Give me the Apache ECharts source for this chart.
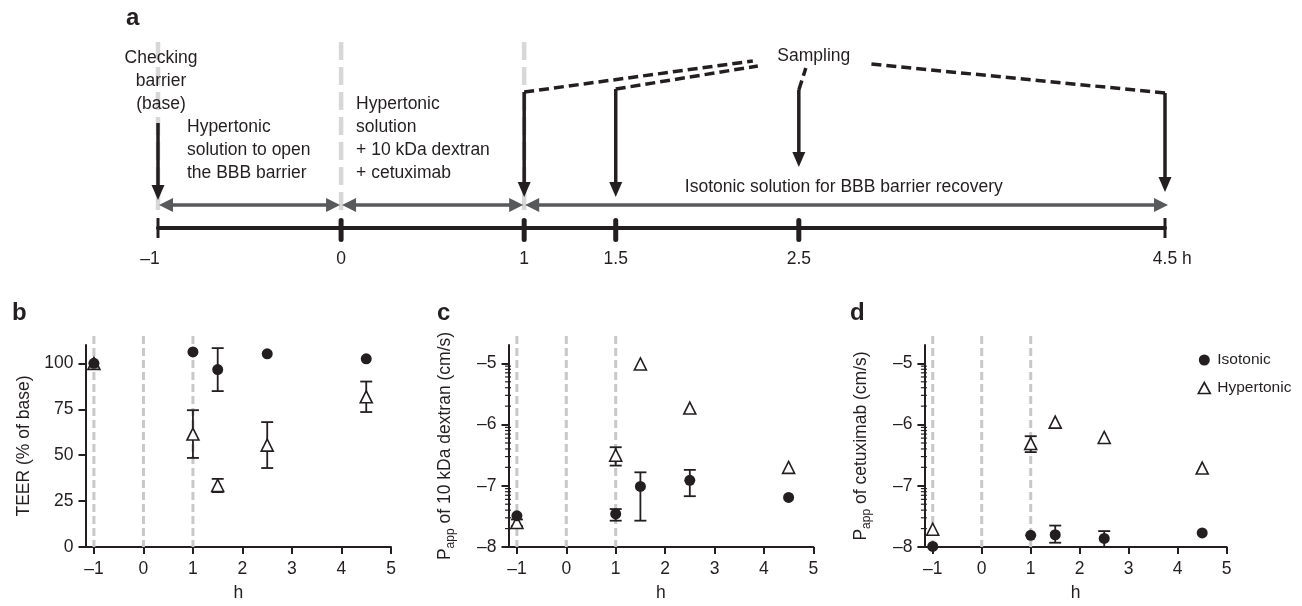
<!DOCTYPE html>
<html><head><meta charset="utf-8">
<script src="https://cdn.jsdelivr.net/npm/echarts@6/dist/echarts.min.js"></script>
<style>html,body{margin:0;padding:0;background:#fff}#c{width:1302px;height:606px}</style>
</head><body><div id="c"></div>
<script>
// ---------- Panel a: experimental timeline ----------
const timelineHours = [-1, 0, 1, 1.5, 2.5, 4.5];
const phaseBounds = [[-1, 0], [0, 1], [1, 4.5]];
const checkHour = -1;
const samplingHours = [1, 1.5, 2.5, 4.5];
const guideHours = [-1, 0, 1];
const annotTexts = ['Checking\nbarrier\n(base)', 'Hypertonic\nsolution to open\nthe BBB barrier',
  'Hypertonic\nsolution\n+ 10 kDa dextran\n+ cetuximab', 'Sampling', 'Isotonic solution for BBB barrier recovery'];
const annotHours = [-1, -1, 0, 2.5, 2.5];

// ---------- Panels b-d: measurements ----------
const timeH = [-1, 1, 1.5, 2.5, 4.5];
const xTicks = [-1, 0, 1, 2, 3, 4, 5];
const teerTicks = [0, 25, 50, 75, 100];
const logTicks = [-8, -7, -6, -5];
// b: TEER (% of base), mean and error
const teerIso = [100, 106.2, 96.6, 105.2, 102.5];
const teerIsoErr = [0, 0, 11.7, 0, 0];
const teerHyp = [100, 61.5, 33.5, 55.5, 81.8];
const teerHypErr = [0, 13, 3.6, 12.5, 8.3];
// c: log10 Papp of 10 kDa dextran, with error-bar limits
const dexIso = [-7.49, -7.46, -7.01, -6.91, -7.19];
const dexIsoLo = [null, -7.57, -7.57, -7.17, null];
const dexIsoHi = [null, -7.38, -6.78, -6.74, null];
const dexHyp = [-7.6, -6.5, -5.01, -5.73, -6.7];
const dexHypLo = [-7.66, -6.67, null, null, null];
const dexHypHi = [-7.55, -6.37, null, null, null];
// d: log10 Papp of cetuximab
const cetIso = [-7.99, -7.81, -7.8, -7.86, -7.77];
const cetIsoLo = [null, null, -7.93, -8.0, null];
const cetIsoHi = [null, null, -7.65, -7.74, null];
const cetHyp = [-7.71, -6.31, -5.96, -6.21, -6.71];
const cetHypLo = [null, -6.45, null, null, null];
const cetHypHi = [null, -6.19, null, null, null];

// ---------- styling / layout ----------
const FONT = 'Liberation Sans';
const INK = '#231f20';
const GREY = '#58595b';
const FS = 17.5;
const XMIN = -1.17;
const fmtNum = v => (v < 0 ? '\u2013' + Math.abs(v) : String(v));

const logMinor = [];
for (let d = -8; d <= -5; d++) for (let k = 2; k <= 9; k++) {
  const v = d + Math.log10(k); if (v <= -4.7) logMinor.push(v);
}

const chart = echarts.init(document.getElementById('c'));

function line(x1, y1, x2, y2, style) { return { type: 'line', shape: { x1, y1, x2, y2 }, style }; }
function poly(points, fill) { return { type: 'polygon', shape: { points }, style: { fill } }; }

const axisText = { color: INK, fontSize: FS, fontFamily: FONT };

function panelX(gi) {
  return {
    gridIndex: gi, type: 'value', min: XMIN, max: 5,
    name: 'h', nameLocation: 'middle', nameGap: 37, nameTextStyle: axisText,
    axisLine: { show: true, onZero: false, lineStyle: { color: INK, width: 2 } },
    axisTick: { show: true, length: 7, lineStyle: { color: INK, width: 2 }, customValues: xTicks },
    axisLabel: Object.assign({ customValues: xTicks, formatter: fmtNum, margin: 13 }, axisText),
    splitLine: { show: false }
  };
}
function panelY(gi, min, max, ticks, name) {
  return {
    gridIndex: gi, type: 'value', min, max,
    name, nameLocation: 'middle', nameGap: 52,
    nameTextStyle: Object.assign({
      rich: {
        n: { fontSize: FS, fontFamily: FONT, color: INK, lineHeight: 22 },
        s: { fontSize: 12, fontFamily: FONT, color: INK, verticalAlign: 'bottom', lineHeight: 12 }
      }
    }, axisText),
    axisLine: { show: true, onZero: false, lineStyle: { color: INK, width: 2 } },
    axisTick: { show: true, length: 7, lineStyle: { color: INK, width: 2 }, customValues: ticks },
    axisLabel: Object.assign({ customValues: ticks, formatter: fmtNum, margin: 12 }, axisText),
    splitLine: { show: false }
  };
}

function guideSeries(gi, ymin) {
  return {
    type: 'custom', xAxisIndex: gi, yAxisIndex: gi, z: 1, silent: true,
    data: guideHours.map(h => [h, ymin]),
    renderItem: (params, api) => {
      const p = api.coord([api.value(0), api.value(1)]);
      const top = params.coordSys.y - 9;
      return line(p[0], top, p[0], p[1], { stroke: '#c8c8c8', lineWidth: 3, lineDash: [8, 4] });
    }
  };
}
function errSeries(gi, xs, lo, hi) {
  const data = [];
  xs.forEach((x, i) => { if (lo[i] != null && hi[i] != null) data.push([x, lo[i], hi[i]]); });
  return {
    type: 'custom', xAxisIndex: gi, yAxisIndex: gi, z: 2, silent: true, data,
    renderItem: (params, api) => {
      const a = api.coord([api.value(0), api.value(1)]);
      const b = api.coord([api.value(0), api.value(2)]);
      const st = { stroke: INK, lineWidth: 1.8 };
      return { type: 'group', children: [
        line(a[0], a[1], b[0], b[1], st),
        line(a[0] - 6, a[1], a[0] + 6, a[1], st),
        line(b[0] - 6, b[1], b[0] + 6, b[1], st)
      ] };
    }
  };
}
function isoSeries(gi, vals) {
  return { type: 'scatter', name: 'Isotonic', xAxisIndex: gi, yAxisIndex: gi, z: 4,
    symbol: 'circle', symbolSize: 11, itemStyle: { color: INK, opacity: 1 },
    data: timeH.map((h, i) => [h, vals[i]]) };
}
function hypSeries(gi, vals) {
  return { type: 'scatter', name: 'Hypertonic', xAxisIndex: gi, yAxisIndex: gi, z: 3,
    symbol: 'triangle', symbolSize: 12, itemStyle: { color: '#fff', borderColor: INK, borderWidth: 1.6, opacity: 1 },
    data: timeH.map((h, i) => [h, vals[i]]) };
}
function minorSeries(gi) {
  return { type: 'custom', xAxisIndex: gi, yAxisIndex: gi, z: 2, silent: true,
    data: logMinor.map(v => [XMIN, v]),
    renderItem: (params, api) => {
      const p = api.coord([api.value(0), api.value(1)]);
      return line(p[0] - 3.5, p[1], p[0] + 2.5, p[1], { stroke: INK, lineWidth: 1.2 });
    } };
}

// panel a layout (pixel offsets above the timeline axis)
const A = {
  guideTop: 186, guideBottom: 12, arrowRow: 23,
  checkArrow: { top: 105, tip: 28 },
  sampArrow: { 1: { top: 136, tip: 31 }, 1.5: { top: 139, tip: 31 }, 2.5: { top: 138, tip: 61 }, 4.5: { top: 135, tip: 36 } },
  label: { dx: 15, dy: 172 },
  connEnd: { 1: [-61, -5], 1.5: [-56, -10], 2.5: [-8, -12], 4.5: [57, -8] },
  text: [
    { dx: 3, dy: 181.5, align: 'center', va: 'top' },
    { dx: 29, dy: 112.5, align: 'left', va: 'top' },
    { dx: 15, dy: 135.5, align: 'left', va: 'top' },
    { dx: 15, dy: 172, align: 'center', va: 'middle' },
    { dx: 45, dy: 41, align: 'center', va: 'middle' }
  ]
};

function downArrow(x, yTop, yTip) {
  return [
    line(x, yTop, x, yTip - 12, { stroke: INK, lineWidth: 3.5 }),
    poly([[x - 6.5, yTip - 15], [x + 6.5, yTip - 15], [x, yTip]], INK)
  ];
}

const aSeries = [
  { // grey guide lines
    type: 'custom', xAxisIndex: 0, yAxisIndex: 0, z: 1, silent: true,
    data: guideHours.map(h => [h, 0]),
    renderItem: (params, api) => {
      const p = api.coord([api.value(0), 0]);
      return line(p[0], p[1] - A.guideTop, p[0], p[1] - A.guideBottom, { stroke: '#d7d7d7', lineWidth: 4.5, lineDash: [18, 7] });
    }
  },
  { // timeline ticks
    type: 'custom', xAxisIndex: 0, yAxisIndex: 0, z: 3, silent: true,
    data: timelineHours.map(h => [h, 0]),
    renderItem: (params, api) => {
      const h = api.value(0);
      const p = api.coord([h, 0]);
      const end = (h === timelineHours[0] || h === timelineHours[timelineHours.length - 1]);
      return end ? line(p[0], p[1] - 10, p[0], p[1] + 10, { stroke: INK, lineWidth: 3 })
                 : line(p[0], p[1] - 7.5, p[0], p[1] + 11.5, { stroke: INK, lineWidth: 5, lineCap: 'round' });
    }
  },
  { // double arrows for phases
    type: 'custom', xAxisIndex: 0, yAxisIndex: 0, z: 3, silent: true,
    data: phaseBounds,
    renderItem: (params, api) => {
      const a = api.coord([api.value(0), 0]);
      const b = api.coord([api.value(1), 0]);
      const y = a[1] - A.arrowRow;
      const x0 = a[0] + 1, x1 = b[0] + (params.dataIndex === phaseBounds.length - 1 ? 3 : -1);
      return { type: 'group', children: [
        line(x0 + 12, y, x1 - 12, y, { stroke: GREY, lineWidth: 3.5 }),
        poly([[x0, y], [x0 + 14, y - 7], [x0 + 14, y + 7]], GREY),
        poly([[x1, y], [x1 - 14, y - 7], [x1 - 14, y + 7]], GREY)
      ] };
    }
  },
  { // "checking barrier" arrow
    type: 'custom', xAxisIndex: 0, yAxisIndex: 0, z: 4, silent: true,
    data: [[checkHour, 0]],
    renderItem: (params, api) => {
      const p = api.coord([api.value(0), 0]);
      return { type: 'group', children: downArrow(p[0], p[1] - A.checkArrow.top, p[1] - A.checkArrow.tip) };
    }
  },
  { // sampling arrows + dashed connectors
    type: 'custom', xAxisIndex: 0, yAxisIndex: 0, z: 4, silent: true,
    data: samplingHours.map(h => [h, 0]),
    renderItem: (params, api) => {
      const h = api.value(0);
      const p = api.coord([h, 0]);
      const lab = api.coord([annotHours[3], 0]);
      const lx = lab[0] + A.label.dx, ly = lab[1] - A.label.dy;
      const s = A.sampArrow[h], ce = A.connEnd[h];
      const yTop = p[1] - s.top;
      return { type: 'group', children: downArrow(p[0], yTop, p[1] - s.tip).concat([
        line(p[0], yTop, lx + ce[0], ly - ce[1], { stroke: INK, lineWidth: 3.5, lineDash: [10, 5] })
      ]) };
    }
  },
  { // annotation texts
    type: 'custom', xAxisIndex: 0, yAxisIndex: 0, z: 5, silent: true,
    data: annotHours.map(h => [h, 0]),
    renderItem: (params, api) => {
      const i = params.dataIndex;
      const p = api.coord([api.value(0), 0]);
      const t = A.text[i];
      return { type: 'text', x: p[0] + t.dx, y: p[1] - t.dy,
        style: { text: annotTexts[i], fill: INK, font: FS + 'px ' + FONT, align: t.align, verticalAlign: t.va, lineHeight: 23 } };
    }
  }
];

const letters = [['a', 126, 27], ['b', 12, 322], ['c', 437, 322], ['d', 850, 322]];

const option = {
  animation: false,
  backgroundColor: '#fff',
  textStyle: { fontFamily: FONT },
  grid: [
    { left: 158, top: 40, width: 1007, height: 188 },
    { left: 85.5, top: 345, width: 305.5, height: 202 },
    { left: 508.5, top: 345, width: 304.8, height: 202 },
    { left: 924.4, top: 345, width: 302.3, height: 202 }
  ],
  legend: {
    orient: 'vertical', left: 1192.5, top: 347, padding: 5, itemWidth: 12, itemHeight: 11, itemGap: 12,
    selectedMode: false, textStyle: { color: INK, fontSize: 15.5, fontFamily: FONT, padding: [0, 0, 0, 2] },
    data: [
      { name: 'Isotonic', icon: 'circle', itemStyle: { color: INK } },
      { name: 'Hypertonic', icon: 'triangle', itemStyle: { color: '#fff', borderColor: INK, borderWidth: 1.6 } }
    ]
  },
  graphic: letters.map(l => ({ type: 'text', x: l[1], y: l[2] - 8.4,
    style: { text: l[0], font: 'bold 24px ' + FONT, fill: INK, verticalAlign: 'middle' } })),
  xAxis: [
    {
      gridIndex: 0, type: 'value', min: -1, max: 4.5,
      axisLine: { show: true, onZero: false, lineStyle: { color: INK, width: 4 } },
      axisTick: { show: false },
      axisLabel: Object.assign({
        customValues: timelineHours, margin: 22,
        formatter: v => v === timelineHours[0] ? fmtNum(v) + '{p|}' : (v === timelineHours[timelineHours.length - 1] ? '{q|}' + v + ' h' : String(v)),
        rich: { p: { width: 16 }, q: { width: 14.6 } }
      }, axisText),
      splitLine: { show: false }
    },
    panelX(1), panelX(2), panelX(3)
  ],
  yAxis: [
    { gridIndex: 0, type: 'value', min: 0, max: 188, show: false },
    panelY(1, 0, 110, teerTicks, 'TEER (% of base)'),
    panelY(2, -8, -4.7, logTicks, '{n|P}{s|app}{n| of 10 kDa dextran (cm/s)}'),
    panelY(3, -8, -4.7, logTicks, '{n|P}{s|app}{n| of cetuximab (cm/s)}')
  ],
  series: aSeries.concat([
    guideSeries(1, 0), guideSeries(2, -8), guideSeries(3, -8),
    minorSeries(2), minorSeries(3),
    errSeries(1, timeH, teerIso.map((v, i) => teerIsoErr[i] ? v - teerIsoErr[i] : null), teerIso.map((v, i) => v + teerIsoErr[i])),
    errSeries(1, timeH, teerHyp.map((v, i) => teerHypErr[i] ? v - teerHypErr[i] : null), teerHyp.map((v, i) => v + teerHypErr[i])),
    errSeries(2, timeH, dexIsoLo, dexIsoHi), errSeries(2, timeH, dexHypLo, dexHypHi),
    errSeries(3, timeH, cetIsoLo, cetIsoHi), errSeries(3, timeH, cetHypLo, cetHypHi),
    hypSeries(1, teerHyp), isoSeries(1, teerIso),
    hypSeries(2, dexHyp), isoSeries(2, dexIso),
    hypSeries(3, cetHyp), isoSeries(3, cetIso)
  ])
};
chart.setOption(option);
</script>
</body></html>
